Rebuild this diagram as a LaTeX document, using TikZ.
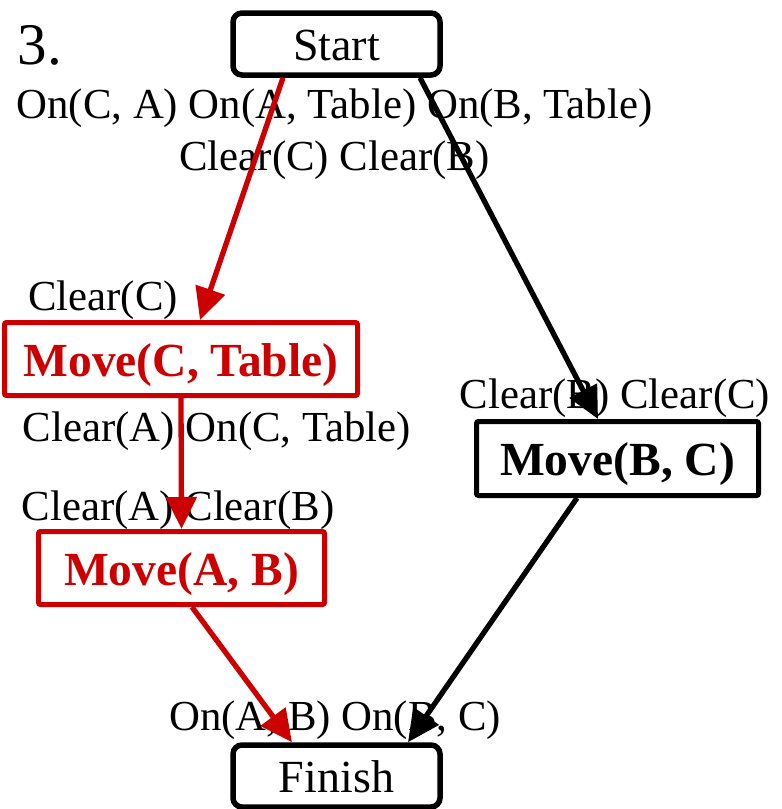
\documentclass[tikz,border=0pt]{standalone}
\usepackage{fontspec}
\setmainfont{Liberation Serif}
\usetikzlibrary{arrows.meta}
\definecolor{planred}{RGB}{204,0,0}
\begin{document}
\begin{tikzpicture}[x=1pt,y=-1pt,
  endbox/.style={draw=black,line width=5.5pt,rounded corners=9pt,inner sep=0pt,
    text height=38pt,text depth=6pt,font=\fontsize{46}{50}\selectfont},
  actbox/.style={draw,line width=5pt,rounded corners=2pt,inner sep=0pt,
    text height=40pt,text depth=6pt,font=\fontsize{47.5}{52}\selectfont\bfseries},
  cond/.style={inner sep=0pt,font=\fontsize{42.8}{47}\selectfont},
  link/.style={line width=5.3pt,-{Triangle[length=32pt,width=30pt]}},
  redlink/.style={link,draw=planred,fill=planred},
  blklink/.style={link,draw=black,fill=black}]
\useasboundingbox (0,0) rectangle (782,809);

% step number
\node[inner sep=0pt,font=\fontsize{59}{62}\selectfont] (num) at (40,45) {3.};

% plan nodes
\node[endbox,minimum width=207pt,minimum height=62pt] (start) at (336.5,44) {Start};
\node[endbox,minimum width=207pt,minimum height=62pt] (finish) at (336.5,776) {Finish};
\node[actbox,draw=planred,text=planred,minimum width=353pt,minimum height=73pt] (movect) at (181,359) {Move(C, Table)};
\node[actbox,draw=planred,text=planred,minimum width=286pt,minimum height=73pt] (moveab) at (181.5,568) {Move(A, B)};
\node[actbox,draw=black,minimum width=282pt,minimum height=74pt] (movebc) at (617.5,458.5) {Move(B, C)};

% preconditions and effects
\node[cond] (init1) at (334.5,108) {On(C, A) On(A, Table) On(B, Table)};
\node[cond] (init2) at (334.5,160) {Clear(C) Clear(B)};
\node[cond] (prect) at (103,300) {Clear(C)};
\node[cond] (effct) at (217,431) {Clear(A) On(C, Table)};
\node[cond] (preab) at (178,510) {Clear(A) Clear(B)};
\node[cond] (prebc) at (615,398) {Clear(B) Clear(C)};
\node[cond] (goal) at (335,720) {On(A, B) On(B, C)};

% ordering links
\draw[redlink] ([xshift=-53.5pt]start.south) -- ([xshift=19pt]movect.north);
\draw[redlink] (movect.south) -- (moveab.north);
\draw[redlink] ([xshift=10.5pt]moveab.south) -- ([xshift=-44.5pt]finish.north);
\draw[blklink] ([xshift=83.5pt]start.south) -- ([xshift=-19.5pt]movebc.north);
\draw[blklink] ([xshift=-40.5pt]movebc.south) -- ([xshift=71.5pt]finish.north);
\end{tikzpicture}
\end{document}
